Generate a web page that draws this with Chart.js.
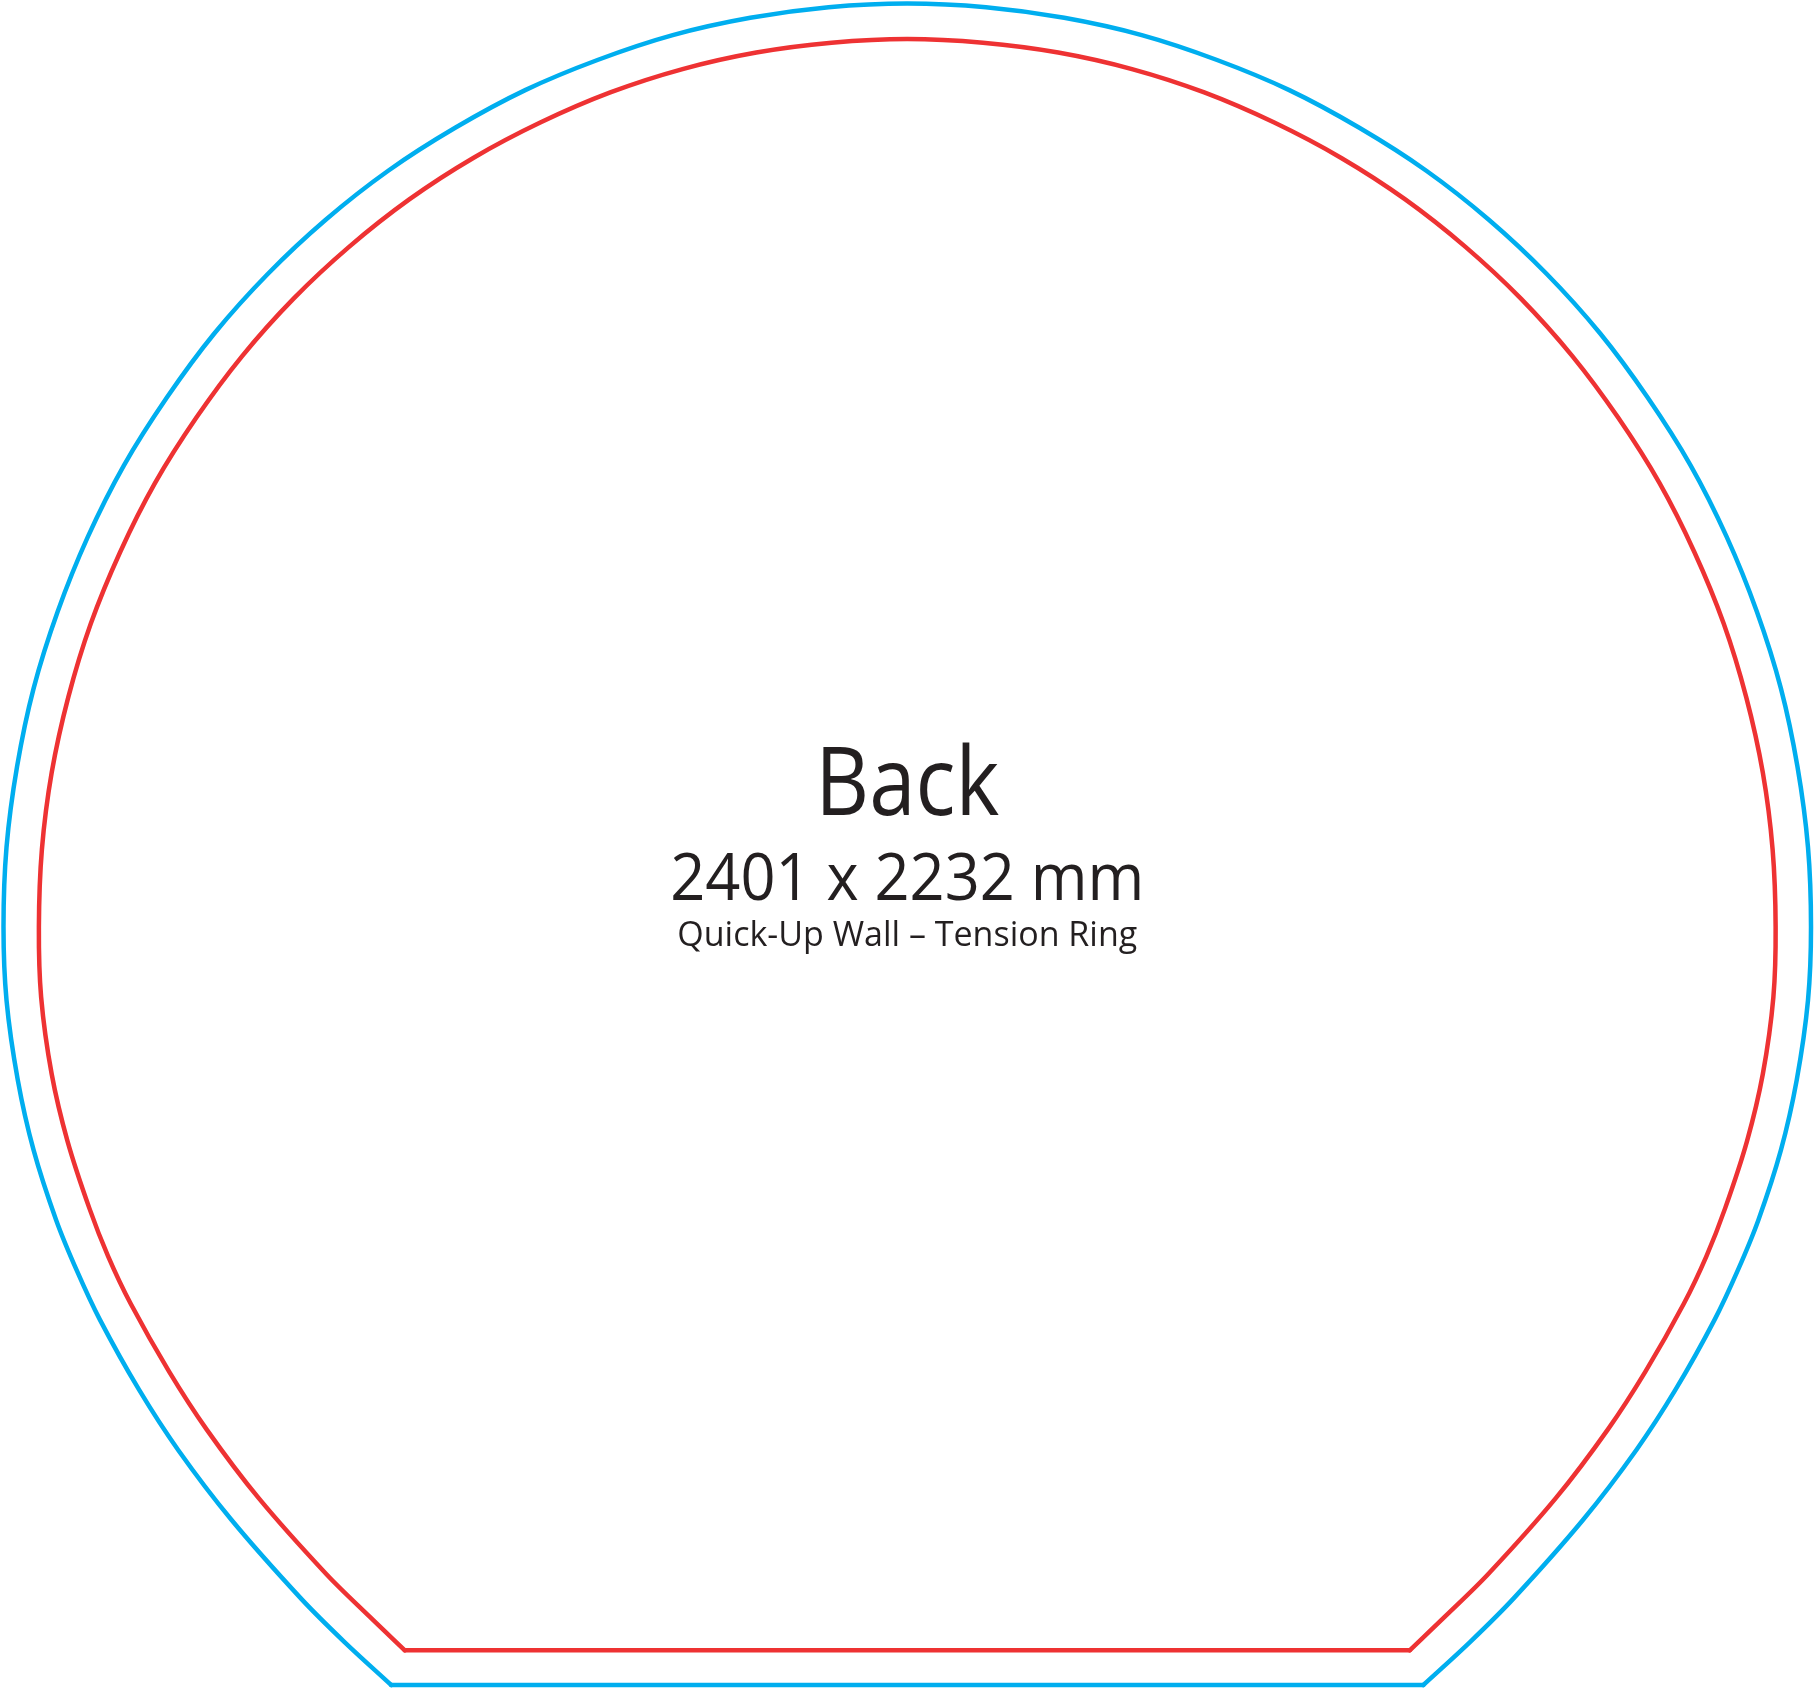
<!DOCTYPE html>
<html>
<head>
<meta charset="utf-8">
<title>Back - Quick-Up Wall Tension Ring</title>
<script src="https://cdn.jsdelivr.net/npm/chart.js@4.4.1/dist/chart.umd.min.js"></script>
<style>
  html, body { margin: 0; padding: 0; background: #ffffff; }
  #wrap { width: 1815px; height: 1688px; }
</style>
</head>
<body>
<div id="wrap"><canvas id="chart" width="1815" height="1688"></canvas></div>
<script>
// outline coordinates in mm (0,0 = bottom left corner of the bleed outline)
const bleedX = [515, 453, 395, 303, 232, 180, 128, 97, 70, 40, 19, 4, 0, 4, 18, 40, 72, 112, 160, 217, 280, 351, 428, 511, 600, 693, 789, 889, 992, 1096,
  1200.5,
  1305, 1409, 1512, 1612, 1708, 1801, 1890, 1973, 2050, 2121, 2184, 2241, 2289, 2329, 2361, 2383, 2397, 2401, 2397, 2382, 2361, 2331, 2304, 2273, 2221, 2169, 2098, 2006, 1948, 1886];
const bleedY = [0, 57, 115, 219, 312, 392, 485, 551, 617, 710, 803, 909, 1006, 1112, 1219, 1323, 1425, 1524, 1619, 1709, 1794, 1873, 1945, 2010, 2067, 2117, 2157, 2190, 2213, 2227,
  2232,
  2227, 2213, 2190, 2157, 2117, 2067, 2010, 1945, 1873, 1794, 1709, 1619, 1524, 1425, 1323, 1219, 1112, 1006, 909, 803, 710, 617, 551, 485, 392, 312, 219, 115, 57, 0];

const trimX = [533, 486, 429, 339, 270, 220, 169, 139, 114, 85, 64, 50, 47, 51, 64, 86, 116, 155, 201, 256, 317, 385, 459, 539, 624, 713, 806, 902, 1000, 1100,
  1200.5,
  1301, 1401, 1499, 1595, 1688, 1777, 1862, 1942, 2016, 2084, 2145, 2200, 2246, 2285, 2315, 2337, 2350, 2354, 2351, 2337, 2316, 2287, 2262, 2232, 2181, 2131, 2062, 1972, 1915, 1868];
const trimY = [46, 91, 147, 248, 339, 416, 506, 569, 633, 722, 811, 913, 1006, 1109, 1211, 1311, 1409, 1504, 1595, 1682, 1764, 1840, 1909, 1972, 2027, 2074, 2114, 2145, 2167, 2180,
  2185,
  2180, 2167, 2145, 2114, 2074, 2027, 1972, 1909, 1840, 1764, 1682, 1595, 1504, 1409, 1311, 1211, 1109, 1006, 913, 811, 722, 633, 569, 506, 416, 339, 248, 147, 91, 46];

// straight bottom edges
const bleedBottomX = [515, 1886];
const bleedBottomY = [0, 0];
const trimBottomX = [533, 1868];
const trimBottomY = [46, 46];

const labelLines = ['Back', '2401 x 2232 mm', 'Quick-Up Wall – Tension Ring'];

const toPoints = (xs, ys) => xs.map((x, i) => ({ x: x, y: ys[i] }));

const BLUE = '#00aeef';
const RED = '#ee3233';

const centerText = {
  id: 'centerText',
  afterDraw(chart) {
    const ctx = chart.ctx;
    const cx = chart.scales.x.getPixelForValue(1200.5);
    ctx.save();
    ctx.fillStyle = '#231f20';
    ctx.textAlign = 'center';
    ctx.textBaseline = 'alphabetic';
    ctx.font = '95px "Open Sans"';
    ctx.fillText(labelLines[0], cx, 815, 184);
    ctx.font = '66px "Open Sans"';
    ctx.fillText(labelLines[1], cx, 900, 474);
    ctx.font = '34px "Open Sans"';
    ctx.fillText(labelLines[2], cx, 946, 463);
    ctx.restore();
  }
};

const lineStyle = (color) => ({
  borderColor: color,
  borderWidth: 4.5,
  pointRadius: 0,
  fill: false,
  borderCapStyle: 'round',
  borderJoinStyle: 'round'
});

new Chart(document.getElementById('chart').getContext('2d'), {
  type: 'line',
  data: {
    datasets: [
      Object.assign({ label: 'Bleed', data: toPoints(bleedX, bleedY), tension: 0.33 }, lineStyle(BLUE)),
      Object.assign({ label: 'Bleed bottom', data: toPoints(bleedBottomX, bleedBottomY), tension: 0 }, lineStyle(BLUE)),
      Object.assign({ label: 'Trim', data: toPoints(trimX, trimY), tension: 0.33 }, lineStyle(RED)),
      Object.assign({ label: 'Trim bottom', data: toPoints(trimBottomX, trimBottomY), tension: 0 }, lineStyle(RED))
    ]
  },
  options: {
    responsive: false,
    devicePixelRatio: 1,
    animation: false,
    layout: { padding: 0 },
    elements: { line: { capBezierPoints: false } },
    plugins: { legend: { display: false }, tooltip: { enabled: false } },
    scales: {
      x: { type: 'linear', display: false, min: -4.65, max: 2406.3 },
      y: { type: 'linear', display: false, min: -3.98, max: 2236.65 }
    }
  },
  plugins: [centerText]
});
</script>
</body>
</html>
